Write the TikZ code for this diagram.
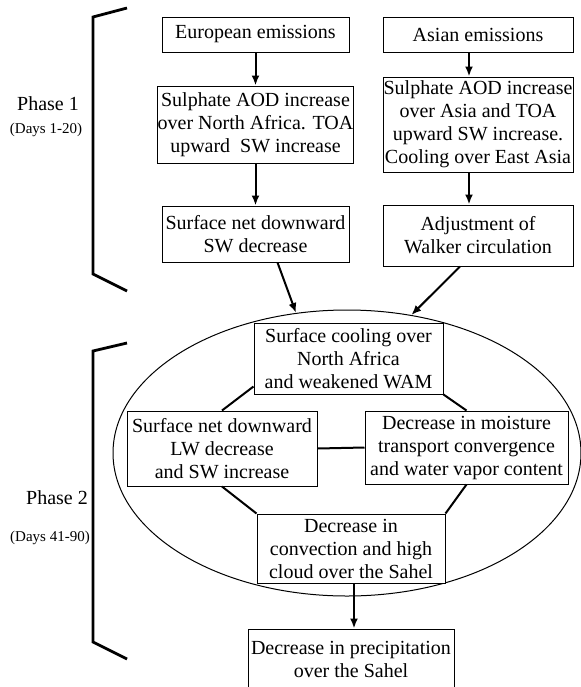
\documentclass[tikz,border=0pt]{standalone}
\usepackage{fontspec}
\setmainfont{Liberation Serif}
\usetikzlibrary{shapes.geometric,arrows.meta,positioning,calc}

\begin{document}
\begin{tikzpicture}[x=0.5pt, y=-0.5pt,
        box/.style={draw, fill=white, line width=0.5pt, align=center, inner sep=0pt,
            font=\fontsize{10}{11.5}\selectfont},
        arr/.style={line width=1pt, -{Latex[length=5pt,width=4pt]}},
        link/.style={line width=1pt},
        brace/.style={line width=1.4pt},
        phase/.style={font=\fontsize{10}{12}\selectfont},
        days/.style={font=\fontsize{7.5}{9}\selectfont}]
        \useasboundingbox (0,0) rectangle (581,687);
        \clip (0,0) rectangle (581,687);

        % Phase 1
        \node[box, minimum width=93.5pt, minimum height=17.5pt] (euro) at (255.5,34.5) {European emissions};
        \node[box, minimum width=95pt, minimum height=17.5pt] (asia) at (478,34.5) {Asian emissions};
        \node[box, minimum width=93.5pt, minimum height=38.5pt] (aodeu) at (255.5,124.5)
            {Sulphate AOD increase\\over North Africa. TOA\\upward~ SW increase};
        \node[box, minimum width=95pt, minimum height=47.5pt] (aodas) at (478,124.5)
            {Sulphate AOD increase\\over Asia and TOA\\upward SW increase.\\Cooling over East Asia};
        \node[box, minimum width=93.5pt, minimum height=28pt] (swdec) at (255.5,234)
            {Surface net downward\\SW decrease};
        \node[box, minimum width=95pt, minimum height=30.5pt] (walker) at (478,235.5)
            {Adjustment of\\Walker circulation};

        \draw[arr] (euro) -- (aodeu);
        \draw[arr] (aodeu) -- (swdec);
        \draw[arr] ([xshift=-4.5pt]asia.south) -- ([xshift=-4.5pt]aodas.north);
        \draw[arr] ([xshift=-4.5pt]aodas.south) -- ([xshift=-4.5pt]walker.north);

        % Phase 2
        \node[draw, ellipse, line width=0.5pt, minimum width=234pt, minimum height=143pt, inner sep=0pt]
            (loop) at (347,453) {};
        \node[box, minimum width=94.5pt, minimum height=35.5pt] (cool) at (348.5,358.5)
            {Surface cooling over\\North Africa\\and weakened WAM};
        \node[box, minimum width=95pt, minimum height=37.5pt] (lwsw) at (222,448.5)
            {Surface net downward\\LW decrease\\and SW increase};
        \node[box, minimum width=101.5pt, minimum height=36.5pt] (moist) at (466.5,447.5)
            {Decrease in moisture\\transport convergence\\and water vapor content};
        \node[box, minimum width=94pt, minimum height=34.5pt] (conv) at (351,548.5)
            {Decrease in\\convection and high\\cloud over the Sahel};
        \node[box, minimum width=103pt, minimum height=30pt] (precip) at (351,659)
            {Decrease in precipitation\\over the Sahel};

        \draw[arr] ([xshift=11pt]swdec.south) -- (loop.110);
        \draw[arr] ([xshift=-9pt]walker.south) -- (loop.65);
        \draw[link] ([yshift=4pt]cool.south west) -- (lwsw.north);
        \draw[link] (cool.south east) -- (moist.north);
        \draw[link] (lwsw.east) -- (moist.west);
        \draw[link] (lwsw.south) -- (conv.north west);
        \draw[link] (moist.south) -- (conv.north east);
        \draw[arr] ([xshift=1.5pt]conv.south) -- ([xshift=1.5pt]precip.north);

        % brackets
        \draw[brace] (127,8) -- (93,17) -- (93,274) -- (127,291);
        \draw[brace] (127,343) -- (93,351) -- (93,642) -- (127,659);
        \node[phase] (ph1) at (48,104) {Phase 1};
        \node[days] (d1) at (46,130) {(Days 1-20)};
        \node[phase] (ph2) at (57,498) {Phase 2};
        \node[days] (d2) at (50,538) {(Days 41-90)};
    \end{tikzpicture}
\end{document}
